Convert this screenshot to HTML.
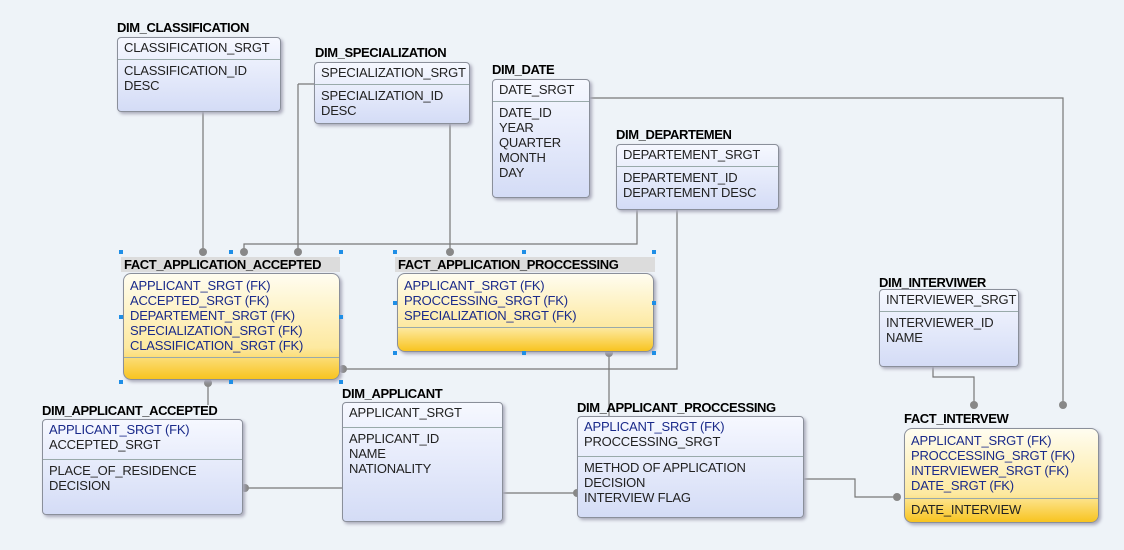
<!DOCTYPE html><html><head><style>
body{margin:0;width:1124px;height:550px;background:#eef3f8;position:relative;overflow:hidden;font-family:"Liberation Sans",sans-serif;}
.t{position:absolute;font-size:13px;font-weight:bold;color:#000;letter-spacing:-0.4px;white-space:nowrap}
.b{position:absolute;border:1px solid #8a8f9a;border-radius:4px;background:linear-gradient(#f6f8ff,#d4dcf6);box-shadow:2px 2px 3px #aab;font-size:13px;color:#222;letter-spacing:-0.2px;box-sizing:border-box;white-space:nowrap}
.b .k{border-bottom:1px solid #9aa;padding:2px 6px;height:22px;box-sizing:border-box}
.b .r{padding:3px 6px;line-height:15px}
.y{background:linear-gradient(#fffdf0,#fde9a0 70%,#f8c420);border-radius:8px}
.y .k{height:auto;color:#1a2a8a;line-height:15px;padding:4px 6px}
.bl{color:#1a2a8a}
svg{position:absolute;left:0;top:0}
.h{position:absolute;width:4px;height:4px;background:#1e8ee6}
</style></head><body>
<svg width="1124" height="550" stroke="#777" fill="none" stroke-width="1.2">
<path d="M203 112V252M298 84H314M298 84V252M450 124V252M590 98H1063V405M637 210V244H244V252M677 210V369H343M609 353V416M208 383V405M245 488H342M503 493H577M804 479H855V497H897M933 367V377H974V405"/>
<g fill="#888" stroke="none">
<circle cx="203" cy="252" r="4"/><circle cx="298" cy="252" r="4"/><circle cx="244" cy="252" r="4"/><circle cx="450" cy="252" r="4"/><circle cx="343" cy="369" r="4"/><circle cx="609" cy="353" r="4"/><circle cx="208" cy="383" r="4"/><circle cx="245" cy="488" r="4"/><circle cx="577" cy="493" r="4"/><circle cx="897" cy="497" r="4"/><circle cx="974" cy="405" r="4"/><circle cx="1063" cy="405" r="4"/>
</g></svg>

<div class="t" style="left:117px;top:20px">DIM_CLASSIFICATION</div>
<div class="b" style="left:117px;top:37px;width:164px;height:75px"><div class="k">CLASSIFICATION_SRGT</div><div class="r">CLASSIFICATION_ID<br>DESC</div></div>

<div class="t" style="left:315px;top:45px">DIM_SPECIALIZATION</div>
<div class="b" style="left:314px;top:62px;width:156px;height:62px"><div class="k">SPECIALIZATION_SRGT</div><div class="r">SPECIALIZATION_ID<br>DESC</div></div>

<div class="t" style="left:492px;top:62px">DIM_DATE</div>
<div class="b" style="left:492px;top:79px;width:98px;height:119px"><div class="k">DATE_SRGT</div><div class="r">DATE_ID<br>YEAR<br>QUARTER<br>MONTH<br>DAY</div></div>

<div class="t" style="left:616px;top:127px">DIM_DEPARTEMEN</div>
<div class="b" style="left:616px;top:144px;width:163px;height:66px"><div class="k">DEPARTEMENT_SRGT</div><div class="r">DEPARTEMENT_ID<br>DEPARTEMENT DESC</div></div>

<div class="t" style="left:121px;top:257px;width:219px;height:15px;background:#dcdcdc;padding-left:3px;box-sizing:border-box">FACT_APPLICATION_ACCEPTED</div>
<div class="b y" style="left:123px;top:273px;width:217px;height:107px"><div class="k" style="height:84px">APPLICANT_SRGT (FK)<br>ACCEPTED_SRGT (FK)<br>DEPARTEMENT_SRGT (FK)<br>SPECIALIZATION_SRGT (FK)<br>CLASSIFICATION_SRGT (FK)</div></div>

<div class="t" style="left:395px;top:257px;width:260px;height:15px;background:#dcdcdc;padding-left:3px;box-sizing:border-box">FACT_APPLICATION_PROCCESSING</div>
<div class="b y" style="left:397px;top:273px;width:257px;height:79px"><div class="k" style="height:54px">APPLICANT_SRGT (FK)<br>PROCCESSING_SRGT (FK)<br>SPECIALIZATION_SRGT (FK)</div></div>

<div class="h" style="left:119px;top:250px"></div><div class="h" style="left:229px;top:250px"></div><div class="h" style="left:339px;top:250px"></div><div class="h" style="left:119px;top:315px"></div><div class="h" style="left:339px;top:315px"></div><div class="h" style="left:119px;top:380px"></div><div class="h" style="left:229px;top:380px"></div><div class="h" style="left:339px;top:380px"></div>
<div class="h" style="left:393px;top:250px"></div><div class="h" style="left:522px;top:250px"></div><div class="h" style="left:652px;top:250px"></div><div class="h" style="left:393px;top:301px"></div><div class="h" style="left:652px;top:301px"></div><div class="h" style="left:393px;top:351px"></div><div class="h" style="left:522px;top:351px"></div><div class="h" style="left:652px;top:351px"></div>

<div class="t" style="left:879px;top:275px">DIM_INTERVIWER</div>
<div class="b" style="left:879px;top:289px;width:140px;height:78px"><div class="k">INTERVIEWER_SRGT</div><div class="r">INTERVIEWER_ID<br>NAME</div></div>

<div class="t" style="left:42px;top:403px">DIM_APPLICANT_ACCEPTED</div>
<div class="b" style="left:42px;top:419px;width:201px;height:96px"><div class="k bl" style="height:40px;line-height:15px">APPLICANT_SRGT (FK)<br><span style="color:#222">ACCEPTED_SRGT</span></div><div class="r">PLACE_OF_RESIDENCE<br>DECISION</div></div>

<div class="t" style="left:342px;top:386px">DIM_APPLICANT</div>
<div class="b" style="left:342px;top:402px;width:161px;height:120px"><div class="k" style="height:25px">APPLICANT_SRGT</div><div class="r">APPLICANT_ID<br>NAME<br>NATIONALITY</div></div>

<div class="t" style="left:577px;top:400px">DIM_APPLICANT_PROCCESSING</div>
<div class="b" style="left:577px;top:416px;width:227px;height:102px"><div class="k bl" style="height:40px;line-height:15px">APPLICANT_SRGT (FK)<br><span style="color:#222">PROCCESSING_SRGT</span></div><div class="r">METHOD OF APPLICATION<br>DECISION<br>INTERVIEW FLAG</div></div>

<div class="t" style="left:904px;top:411px">FACT_INTERVEW</div>
<div class="b y" style="left:904px;top:428px;width:195px;height:95px"><div class="k" style="height:70px">APPLICANT_SRGT (FK)<br>PROCCESSING_SRGT (FK)<br>INTERVIEWER_SRGT (FK)<br>DATE_SRGT (FK)</div><div class="r" style="color:#222">DATE_INTERVIEW</div></div>
</body></html>
